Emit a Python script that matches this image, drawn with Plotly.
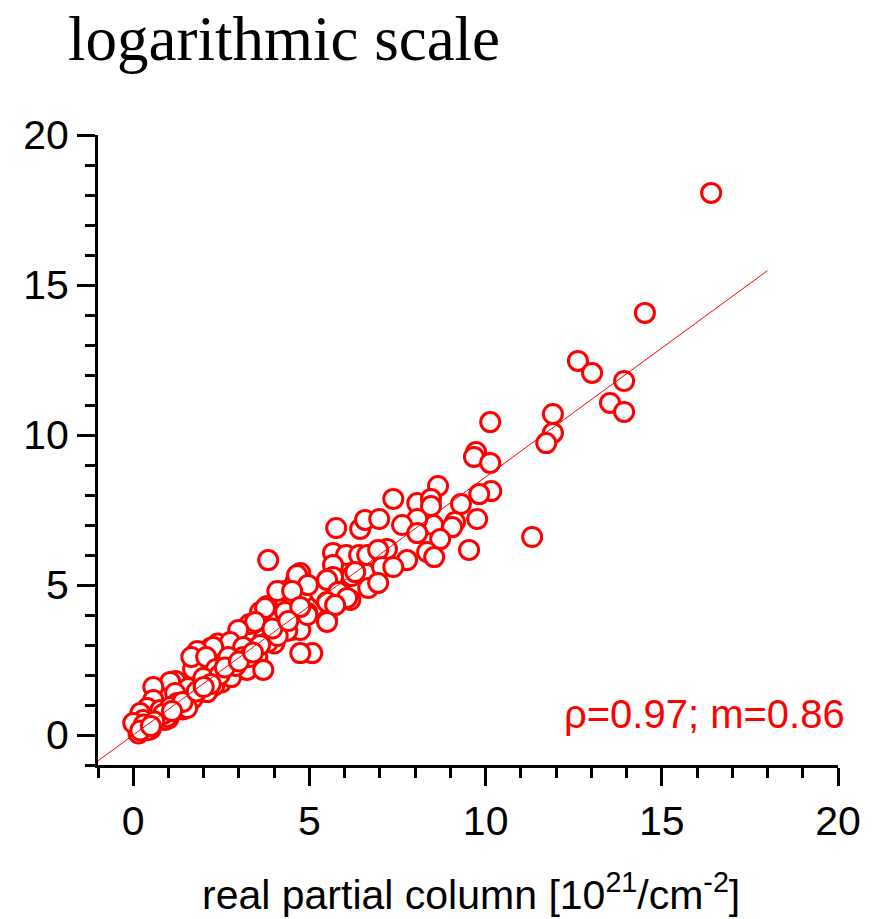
import plotly.graph_objects as go

# real partial column (x) vs. retrieved partial column (y), 10^21/cm^2
real_col = [
    0.15, 0.50, 1.00, 1.40, 2.50, 3.00, 3.50, 0.30, 0.70, 0.90,
    1.30, 1.60, 1.90, 2.30, 2.60, 2.80, 3.10, 3.40, 3.70, 4.00,
    4.20, 4.50, 4.80, 5.20, 5.40, 5.90, 6.20, 6.60, 6.90, 7.20,
    1.20, 1.70, 2.20, 2.90, 3.30, 3.60, 4.30, 2.40, 3.80, 4.60,
    16.40, 14.52, 12.62, 13.02, 13.93, 13.53, 13.93, 11.91, 11.91, 11.72,
    10.13, 9.73, 9.67, 10.13, 8.65, 10.16, 9.82, 7.38, 8.06, 8.45,
    8.45, 9.30, 9.76, 9.13, 9.05, 8.51, 8.06, 7.63, 8.06, 8.71,
    5.76, 6.44, 6.58, 6.98, 9.53, 11.32, 8.34, 8.54, 7.77, 5.67,
    6.04, 6.41, 6.64, 6.95, 5.67, 6.30, 7.06, 7.38, 4.74, 4.94,
    5.67, 5.67, 5.30, 6.67, 6.95, 6.16, 5.79, 5.50, 4.94, 4.74,
    5.08, 3.83, 4.65, 4.96, 4.09, 4.51, 5.50, 5.82, 6.07, 5.50,
    5.73, 3.74, 4.31, 4.94, 5.50, 4.74, 3.46, 2.98, 4.37, 3.83,
    2.75, 2.27, 1.82, 1.65, 2.07, 3.12, 3.52, 3.12, 2.70, 2.35,
    1.99, 2.78, 3.23, 3.69, 4.74, 1.56, 2.10, 1.70, 1.05, 0.57,
    1.19, 1.25, 0.96, 1.53, 0.57, 0.40, 0.20, 0.28, 0.14, 0.43,
    0.77, 1.05, 0.00,
    2.45, 2.90, 3.30, 3.60, 4.10, 2.20, 1.40, 0.85, 0.30, 0.60,
    1.80, 2.60, 3.00, 3.40, 3.95, 4.40, 1.10, 0.20, 0.50, 2.00,
]
retrieved_col = [
    0.05, 0.20, 0.55, 0.85, 1.75, 2.55, 2.90, 0.55, 0.95, 0.50,
    1.30, 1.20, 1.75, 1.65, 2.05, 2.60, 2.25, 2.50, 3.20, 3.05,
    3.60, 3.50, 4.05, 4.30, 4.60, 5.10, 5.30, 5.50, 5.90, 6.20,
    1.80, 2.20, 2.90, 3.20, 3.70, 4.10, 4.80, 3.05, 4.30, 5.10,
    18.07, 14.07, 12.47, 12.07, 11.80, 11.07, 10.77, 10.70, 10.07, 9.73,
    10.43, 9.43, 9.27, 9.07, 8.30, 8.13, 8.03, 7.87, 7.73, 7.87,
    7.63, 7.70, 7.20, 7.10, 6.93, 7.00, 7.20, 7.00, 6.73, 6.53,
    6.90, 6.87, 7.17, 7.20, 6.17, 6.60, 6.10, 5.93, 5.83, 6.07,
    6.00, 6.00, 6.00, 6.17, 5.67, 5.43, 5.60, 5.60, 5.40, 5.00,
    5.27, 4.83, 4.73, 4.90, 5.07, 4.50, 4.40, 3.83, 4.07, 3.50,
    2.73, 5.83, 5.33, 5.00, 4.80, 4.80, 5.17, 4.77, 4.57, 4.43,
    4.33, 4.23, 4.10, 4.00, 3.77, 4.27, 3.77, 3.50, 3.47, 3.10,
    3.10, 2.93, 2.80, 2.60, 2.60, 2.93, 2.60, 2.60, 2.60, 2.20,
    1.90, 1.93, 2.17, 2.17, 2.73, 1.57, 1.43, 1.23, 1.77, 1.60,
    1.40, 1.07, 0.60, 0.90, 1.17, 0.90, 0.73, 0.50, 0.23, 0.17,
    0.83, 0.93, 0.40,
    2.00, 2.30, 2.60, 3.00, 3.30, 1.70, 1.10, 0.70, 0.35, 0.45,
    1.45, 2.25, 2.45, 2.75, 3.55, 3.80, 0.80, 0.15, 0.30, 1.60,
]

# regression line y = m * x
slope = 0.86
intercept = 0.0
fit_x = [-1.0, 18.0]
fit_y = [intercept + slope * v for v in fit_x]

annotation_text = "ρ=0.97; m=0.86"
title_text = "logarithmic scale"
xaxis_text = "real partial column [10<sup>21</sup>/cm<sup>-2</sup>]"

RED = "#ff0000"
SANS = "Liberation Sans, Arial, sans-serif"

fig = go.Figure()
fig.add_trace(go.Scatter(
    x=real_col, y=retrieved_col, mode="markers",
    marker=dict(symbol="circle", size=19, color="white",
                line=dict(color=RED, width=3)),
    showlegend=False, hoverinfo="skip",
))
fig.add_trace(go.Scatter(
    x=fit_x, y=fit_y, mode="lines",
    line=dict(color=RED, width=1),
    showlegend=False, hoverinfo="skip",
))

axis_common = dict(
    showline=True, linecolor="black", linewidth=3,
    ticks="outside", ticklen=18, tickwidth=3, tickcolor="black",
    tick0=0, dtick=5, showgrid=False, zeroline=False,
    tickfont=dict(family=SANS, size=41, color="black"),
    minor=dict(ticks="outside", ticklen=10, tickwidth=3, tickcolor="black",
               dtick=1, tick0=0, showgrid=False),
    mirror=False,
)

fig.update_layout(
    width=886, height=919,
    margin=dict(l=98, r=48, t=135, b=154),
    paper_bgcolor="white", plot_bgcolor="white",
    xaxis=dict(range=[-1, 20], **axis_common),
    yaxis=dict(range=[-1, 20], **axis_common),
    title=dict(text=title_text, xref="container", yref="container",
               x=68 / 886, xanchor="left", y=1 - 38 / 919, yanchor="middle",
               font=dict(family="Liberation Serif, Times New Roman, serif",
                         size=63, color="black")),
    annotations=[
        dict(text=annotation_text, xref="paper", yref="paper",
             x=(847 - 98) / 740, y=(765 - 714) / 630,
             xanchor="right", yanchor="middle", showarrow=False,
             font=dict(family=SANS, size=40, color=RED)),
        dict(text=xaxis_text, xref="paper", yref="paper",
             x=(471 - 98) / 740, y=(765 - 892) / 630,
             xanchor="center", yanchor="middle", showarrow=False,
             font=dict(family=SANS, size=41, color="black")),
    ],
)

fig.write_html("out.html")
